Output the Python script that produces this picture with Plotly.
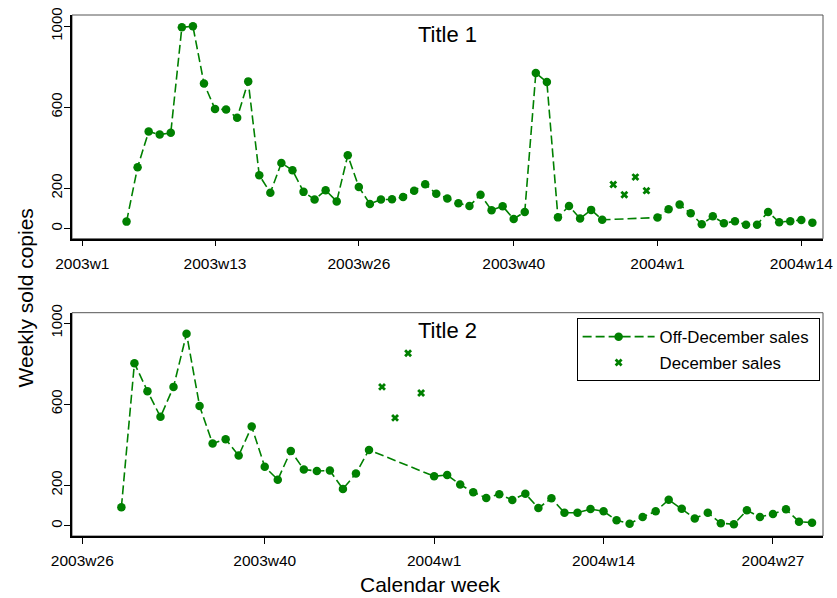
import plotly.graph_objects as go

# ---------------- data ----------------
# week index: 0 = 2003w1, 52 = 2004w1 (52 weeks per year)
top_off_weeks = [4, 5, 6, 7, 8, 9, 10, 11, 12, 13, 14, 15, 16, 17, 18, 19, 20, 21, 22, 23,
                 24, 25, 26, 27, 28, 29, 30, 31, 32, 33, 34, 35, 36, 37, 38, 39, 40, 41, 42, 43,
                 44, 45, 46, 47, 52, 53, 54, 55, 56, 57, 58, 59, 60, 61, 62, 63, 64, 65, 66]
top_off_sales = [35, 304, 480, 465, 474, 995, 1000, 718, 591, 589, 548, 728, 264, 178, 325, 289, 182, 144, 190, 135,
                 363, 206, 122, 144, 145, 157, 188, 220, 173, 149, 126, 112, 168, 91, 111, 48, 83, 769, 725, 56,
                 112, 50, 93, 44, 55, 96, 119, 76, 22, 61, 27, 37, 20, 20, 83, 32, 37, 43, 30]
top_dec_weeks = [48, 49, 50, 51]
top_dec_sales = [218, 168, 255, 188]

bot_off_weeks = [28, 29, 30, 31, 32, 33, 34, 35, 36, 37, 38, 39, 40, 41, 42, 43, 44, 45, 46, 47,
                 52, 53, 54, 55, 56, 57, 58, 59, 60, 61, 62, 63, 64, 65, 66, 67, 68, 69, 70, 71,
                 72, 73, 74, 75, 76, 77, 78, 79, 80, 81]
bot_off_sales = [91, 802, 664, 537, 685, 947, 591, 405, 427, 346, 489, 291, 227, 369, 277, 270, 272, 181, 258, 374,
                 244, 250, 203, 165, 137, 155, 127, 158, 87, 135, 64, 64, 82, 71, 27, 10, 43, 71, 128, 84,
                 36, 64, 12, 7, 76, 43, 58, 81, 20, 15]
bot_dec_weeks = [48, 49, 50, 51]
bot_dec_sales = [685, 532, 851, 655]

top_tick_weeks = [0, 12, 25, 39, 52, 65]
bot_tick_weeks = [25, 39, 52, 65, 78]
y_ticks = [0, 200, 600, 1000]
titles = ["Title 1", "Title 2"]
legend_names = ["Off-December sales", "December sales"]


def week_label(i):
    return f"{2003 + i // 52}w{i % 52 + 1}"


GREEN = "#008000"
FONT = "Liberation Sans, Arial, Helvetica, sans-serif"

fig = go.Figure()

def add_panel(xa, ya, wk_off, s_off, wk_dec, s_dec, show):
    fig.add_trace(go.Scatter(
        x=wk_off, y=s_off, mode="lines+markers", name=legend_names[0] + "\u00a0",
        line=dict(color=GREEN, width=1.6, dash="9px,4px"),
        marker=dict(color=GREEN, size=8.5, symbol="circle"),
        xaxis=xa, yaxis=ya, showlegend=show, legendgroup="g1"))
    fig.add_trace(go.Scatter(
        x=wk_dec, y=s_dec, mode="markers", name=legend_names[1],
        marker=dict(color=GREEN, size=7, symbol="x", line=dict(width=0)),
        xaxis=xa, yaxis=ya, showlegend=show, legendgroup="g2"))

add_panel("x", "y", top_off_weeks, top_off_sales, top_dec_weeks, top_dec_sales, False)
add_panel("x2", "y2", bot_off_weeks, bot_off_sales, bot_dec_weeks, bot_dec_sales, True)

axis_common = dict(showgrid=False, zeroline=False, showline=True, linecolor="black",
                   linewidth=1.5, ticks="outside", ticklen=6, tickwidth=1.3,
                   tickcolor="black", automargin=False, ticklabeloverflow="allow")

xtick_font = dict(family=FONT, size=15.5, color="black")
ytick_font = dict(family=FONT, size=15, color="black")

fig.update_layout(
    width=837, height=598,
    margin=dict(l=72, r=14, t=15, b=62, autoexpand=False),
    plot_bgcolor="white", paper_bgcolor="white",
    font=dict(family=FONT, color="black"),
    xaxis=dict(domain=[0, 1], anchor="y", range=[-0.93, 66.96],
               tickvals=top_tick_weeks, ticktext=[week_label(w) for w in top_tick_weeks],
               tickfont=xtick_font, ticklabelstandoff=4, **axis_common),
    yaxis=dict(domain=[0.5706, 1], anchor="x", range=[-49.5, 1056],
               tickvals=y_ticks, tickangle=-90, tickfont=ytick_font,
               ticklabelstandoff=-4, **axis_common),
    xaxis2=dict(domain=[0, 1], anchor="y2", range=[24.21, 81.84],
                tickvals=bot_tick_weeks, ticktext=[week_label(w) for w in bot_tick_weeks],
                tickfont=xtick_font, ticklabelstandoff=4, **axis_common),
    yaxis2=dict(domain=[0, 0.4286], anchor="x2", range=[-50.8, 1051],
                tickvals=y_ticks, tickangle=-90, tickfont=ytick_font,
                ticklabelstandoff=-4, **axis_common),
    legend=dict(x=0.9955, y=0.418, xanchor="right", yanchor="top",
                bgcolor="white", bordercolor="black", borderwidth=1,
                font=dict(family=FONT, size=16.8, color="black"),
                traceorder="grouped", tracegroupgap=1, itemwidth=72),
    showlegend=True,
)

# plot-region outlines
for xr, yr in [("x domain", "y domain"), ("x2 domain", "y2 domain")]:
    fig.add_shape(type="rect", xref=xr, yref=yr, x0=0, x1=1, y0=0, y1=1,
                  line=dict(color="#555555", width=1), layer="below")

# panel titles
fig.add_annotation(text=titles[0], xref="x domain", yref="y domain", x=0.5, y=0.912,
                   xanchor="center", yanchor="middle", showarrow=False,
                   font=dict(family=FONT, size=22, color="black"))
fig.add_annotation(text=titles[1], xref="x2 domain", yref="y2 domain", x=0.5, y=0.92,
                   xanchor="center", yanchor="middle", showarrow=False,
                   font=dict(family=FONT, size=22, color="black"))

# shared axis titles
fig.add_annotation(text="Weekly sold copies", xref="paper", yref="paper",
                   x=(24.5 - 72) / 751, y=(536 - 298) / 521, xanchor="center", yanchor="middle",
                   textangle=-90, showarrow=False,
                   font=dict(family=FONT, size=21, color="black"))
fig.add_annotation(text="Calendar week", xref="paper", yref="paper",
                   x=(430 - 72) / 751, y=-(597.5 - 536) / 521, xanchor="center", yanchor="bottom",
                   showarrow=False, font=dict(family=FONT, size=21, color="black"))

# remove the browser's default 8 px page margin so the figure fills the window exactly
fig.write_html("out.html", config={"displayModeBar": False},
               post_script="document.body.style.margin='0';")
